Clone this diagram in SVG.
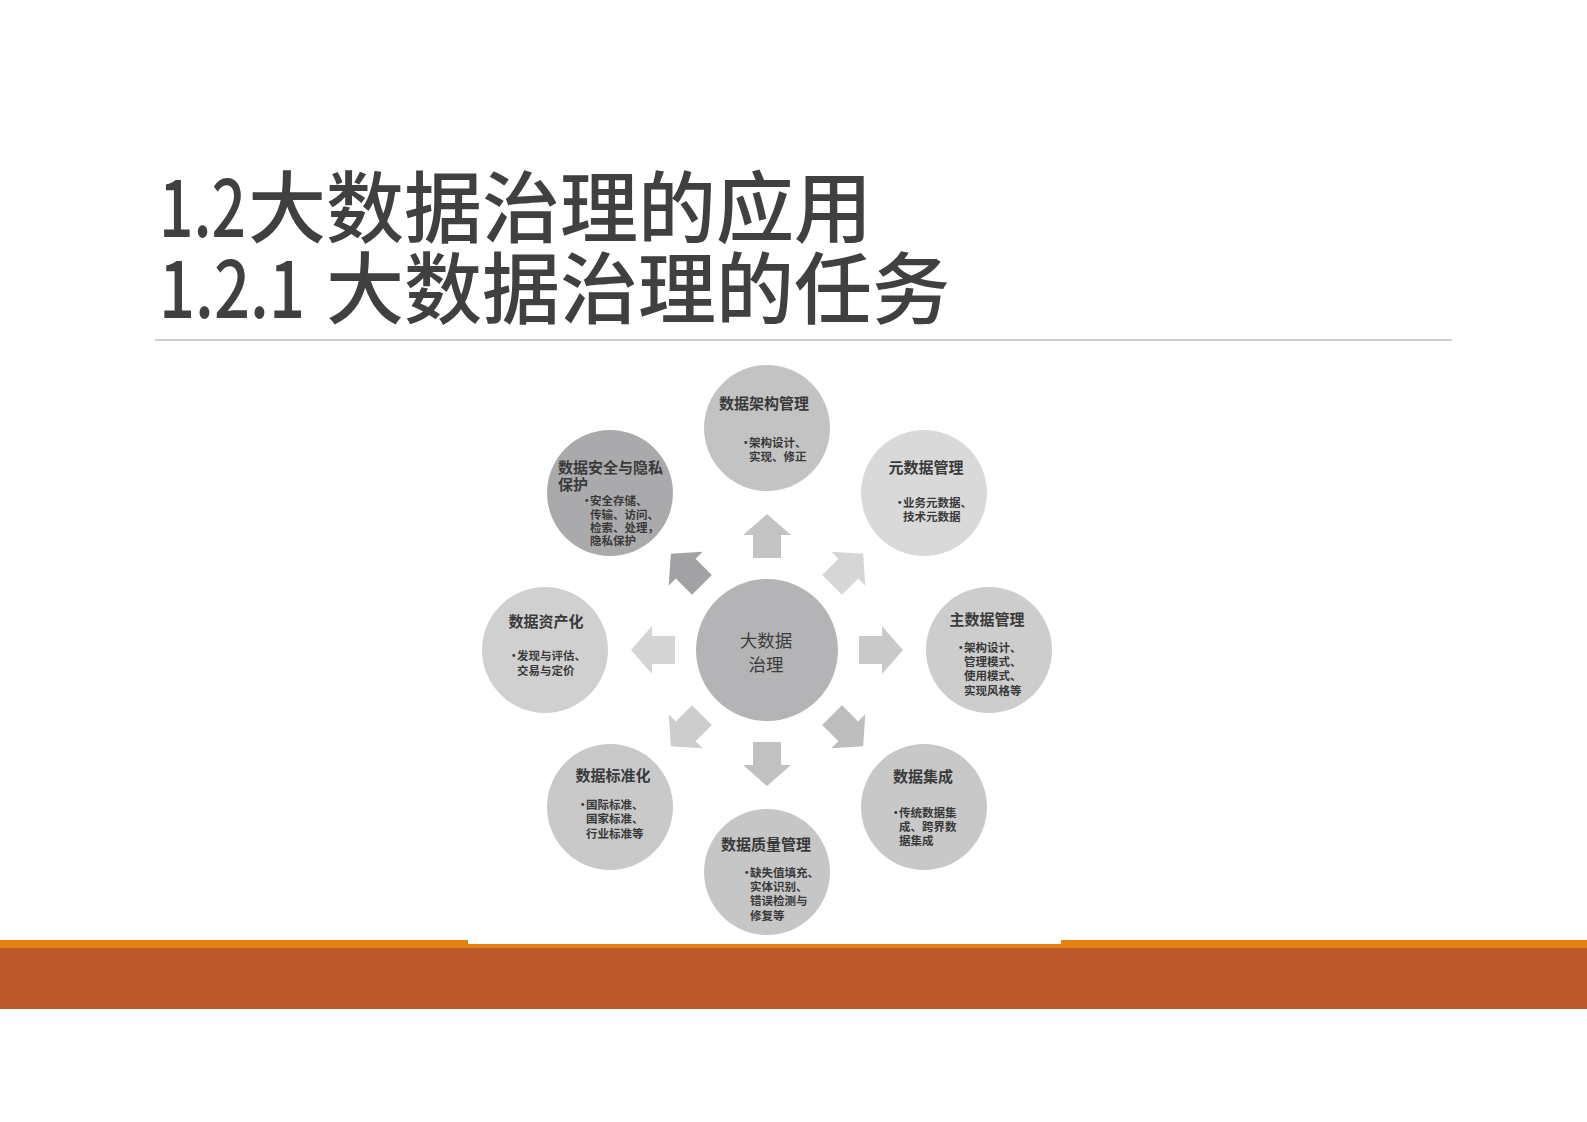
<svg xmlns="http://www.w3.org/2000/svg" xmlns:xlink="http://www.w3.org/1999/xlink" width="1587" height="1122" viewBox="0 0 1587 1122">
<style>
.ttl{font-family:"Noto Sans CJK SC","Liberation Sans",sans-serif;font-size:78px;font-weight:500;fill:#404040;}
.nt{font-family:"Noto Sans CJK SC",sans-serif;font-size:15px;font-weight:700;fill:#3a3a3a;}
.bt{font-family:"Noto Sans CJK SC",sans-serif;font-size:11.5px;font-weight:700;fill:#3a3a3a;}
.ct{font-family:"Noto Sans CJK SC",sans-serif;font-size:17.5px;fill:#3c3c3c;text-anchor:middle;}
.mid{text-anchor:middle;}
</style>
<defs>
<path id="arw" d="M-14,-92 L-14,-115 L-24,-115 L0,-136 L24,-115 L14,-115 L14,-92 Z"/>
</defs>
<rect x="0" y="0" width="1587" height="1122" fill="#ffffff"/>
<g id="title">
<text class="ttl"><tspan x="159" y="237" textLength="87" lengthAdjust="spacingAndGlyphs">1.2</tspan><tspan x="248" y="237">大数据治理的应用</tspan><tspan x="159" y="318" textLength="146" lengthAdjust="spacingAndGlyphs">1.2.1</tspan><tspan x="326" y="318">大数据治理的任务</tspan></text>
<line x1="155" y1="340" x2="1452" y2="340" stroke="#cfcfcf" stroke-width="2"/>
</g>
<g id="footer">
<rect x="0" y="940" width="1587" height="8" fill="#E48312"/>
<rect x="468" y="930" width="593" height="14" fill="#ffffff"/>
<rect x="0" y="948" width="1587" height="61" fill="#BD582C"/>
</g>
<g id="connectors">
<use xlink:href="#arw" transform="translate(767,650) rotate(0)" fill="#c3c3c4"/>
<use xlink:href="#arw" transform="translate(767,650) rotate(45)" fill="#d6d6d7"/>
<use xlink:href="#arw" transform="translate(767,650) rotate(90)" fill="#c9c9ca"/>
<use xlink:href="#arw" transform="translate(767,650) rotate(135)" fill="#bebebf"/>
<use xlink:href="#arw" transform="translate(767,650) rotate(180)" fill="#c1c1c2"/>
<use xlink:href="#arw" transform="translate(767,650) rotate(225)" fill="#cdcdce"/>
<use xlink:href="#arw" transform="translate(767,650) rotate(270)" fill="#d4d4d5"/>
<use xlink:href="#arw" transform="translate(767,650) rotate(315)" fill="#a2a2a4"/>
</g>
<g id="center">
<circle cx="767" cy="650" r="71" fill="#b4b4b6"/>
<text class="ct" x="766" y="647">大数据</text>
<text class="ct" x="766" y="671">治理</text>
</g>
<g id="node-architecture">
<circle cx="767" cy="428" r="63" fill="#c3c3c4"/>
<text class="nt mid" x="764" y="409">数据架构管理</text>
<text class="bt" y="447"><tspan x="740">•</tspan><tspan x="749">架构设计、</tspan></text>
<text class="bt" x="749" y="461">实现、修正</text>
</g>
<g id="node-metadata">
<circle cx="924" cy="493" r="63" fill="#d9d9da"/>
<text class="nt mid" x="926" y="473">元数据管理</text>
<text class="bt" y="507"><tspan x="894">•</tspan><tspan x="903">业务元数据、</tspan></text>
<text class="bt" x="903" y="521">技术元数据</text>
</g>
<g id="node-masterdata">
<circle cx="989" cy="650" r="63" fill="#cdcdce"/>
<text class="nt mid" x="987" y="625">主数据管理</text>
<text class="bt" y="652"><tspan x="955">•</tspan><tspan x="964">架构设计、</tspan></text>
<text class="bt" x="964" y="666">管理模式、</text>
<text class="bt" x="964" y="680">使用模式、</text>
<text class="bt" x="964" y="695">实现风格等</text>
</g>
<g id="node-integration">
<circle cx="924" cy="807" r="63" fill="#c8c8c9"/>
<text class="nt mid" x="923" y="782">数据集成</text>
<text class="bt" y="817"><tspan x="890">•</tspan><tspan x="899">传统数据集</tspan></text>
<text class="bt" x="899" y="831">成、跨界数</text>
<text class="bt" x="899" y="845">据集成</text>
</g>
<g id="node-quality">
<circle cx="767" cy="872" r="63" fill="#c6c6c7"/>
<text class="nt mid" x="766" y="850">数据质量管理</text>
<text class="bt" y="877"><tspan x="741">•</tspan><tspan x="750">缺失值填充、</tspan></text>
<text class="bt" x="750" y="891">实体识别、</text>
<text class="bt" x="750" y="905">错误检测与</text>
<text class="bt" x="750" y="920">修复等</text>
</g>
<g id="node-standard">
<circle cx="610" cy="807" r="63" fill="#c9c9ca"/>
<text class="nt mid" x="613" y="781">数据标准化</text>
<text class="bt" y="809"><tspan x="577">•</tspan><tspan x="586">国际标准、</tspan></text>
<text class="bt" x="586" y="823">国家标准、</text>
<text class="bt" x="586" y="838">行业标准等</text>
</g>
<g id="node-asset">
<circle cx="545" cy="650" r="63" fill="#d0d0d1"/>
<text class="nt mid" x="546" y="627">数据资产化</text>
<text class="bt" y="660"><tspan x="508">•</tspan><tspan x="517">发现与评估、</tspan></text>
<text class="bt" x="517" y="675">交易与定价</text>
</g>
<g id="node-security">
<circle cx="610" cy="493" r="63" fill="#aaaaac"/>
<text class="nt" x="558" y="473">数据安全与隐私</text>
<text class="nt" x="558" y="490">保护</text>
<text class="bt" y="505"><tspan x="581">•</tspan><tspan x="590">安全存储、</tspan></text>
<text class="bt" x="590" y="519">传输、访问、</text>
<text class="bt" x="590" y="532">检索、处理，</text>
<text class="bt" x="590" y="545">隐私保护</text>
</g>
</svg>
